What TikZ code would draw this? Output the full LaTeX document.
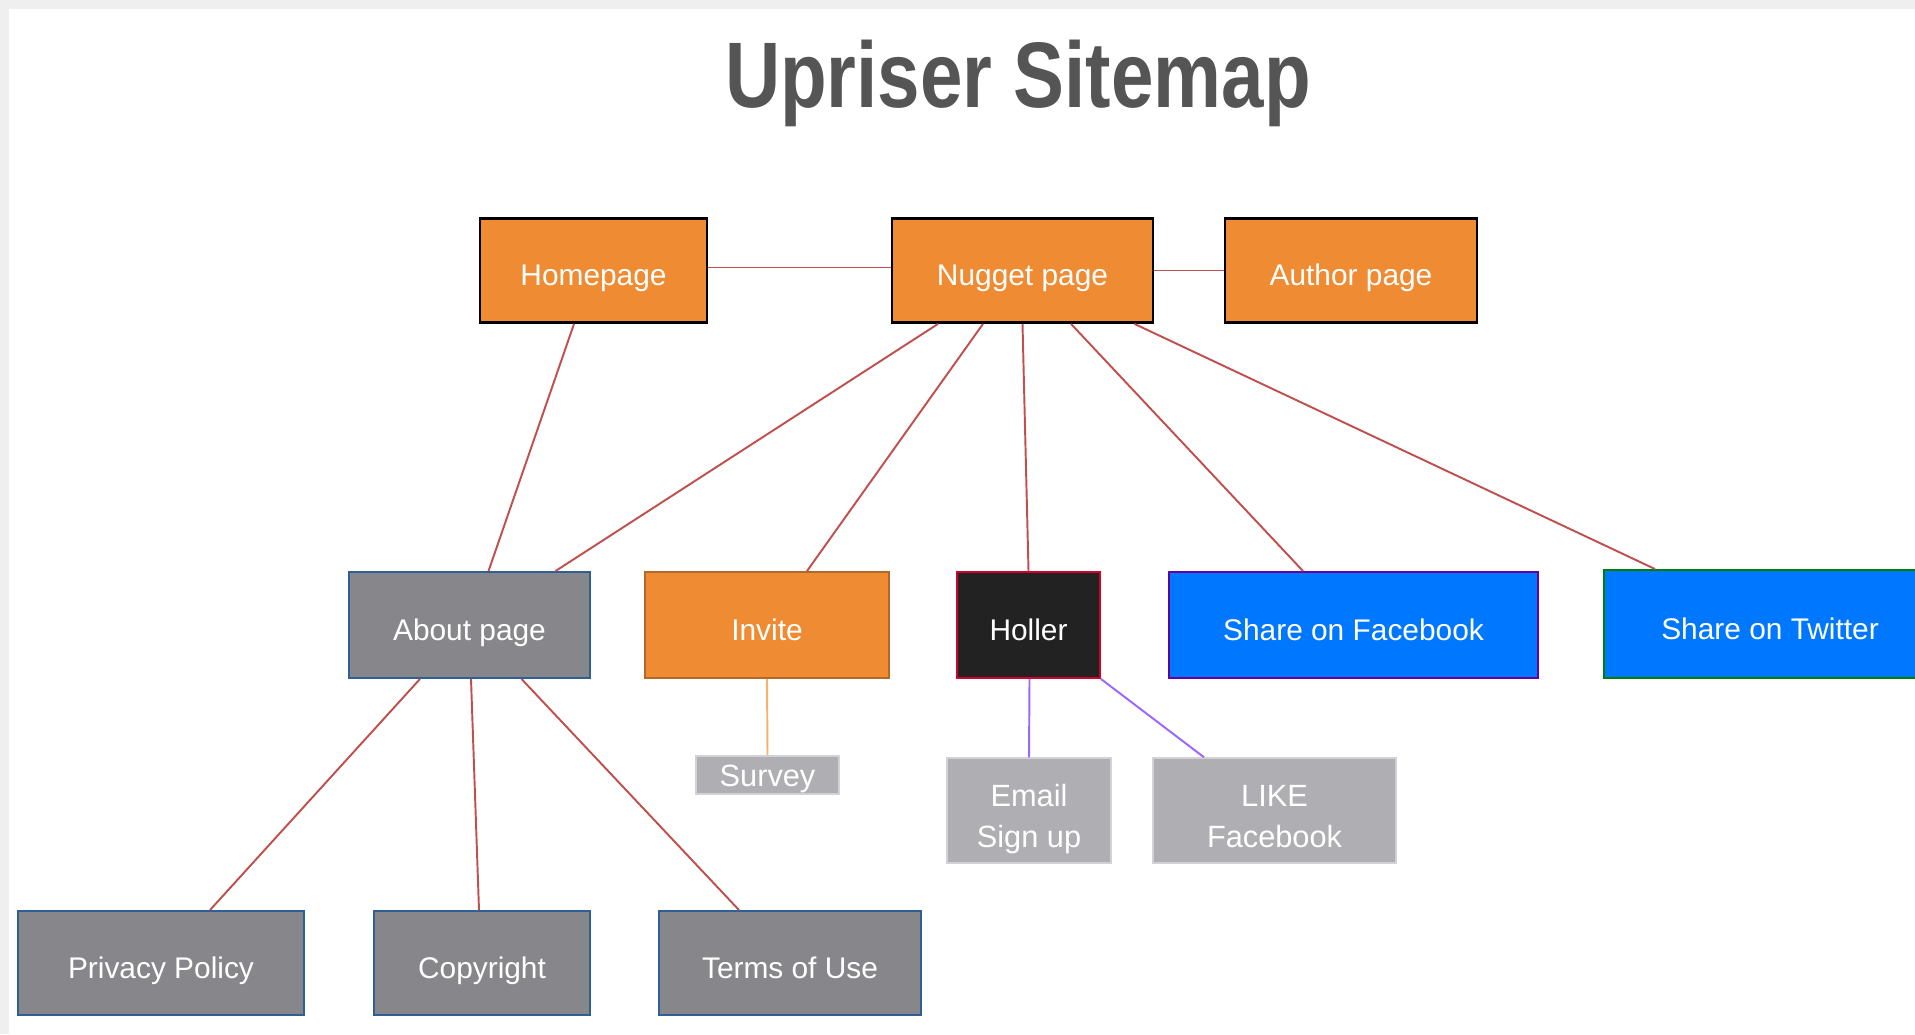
\documentclass[tikz,border=0pt]{standalone}
\usepackage{fontspec}
\setmainfont{Liberation Sans}
\newfontfamily\titlefont{Liberation Sans}[FakeStretch=0.82]
\newcommand{\pxu}{0.02cm}
\definecolor{upOrange}{HTML}{EE8B33}
\definecolor{upGray}{HTML}{87868B}
\definecolor{upGrayEdge}{HTML}{2E6096}
\definecolor{upLight}{HTML}{AFAEB3}
\definecolor{upLightEdge}{HTML}{D2D2D6}
\definecolor{upBlue}{HTML}{0077FF}
\definecolor{upDark}{HTML}{222222}
\definecolor{upRed}{HTML}{C0504D}
\definecolor{upPurple}{HTML}{9966FF}
\definecolor{upPeach}{HTML}{F6B26B}
\definecolor{upTitle}{HTML}{555555}
\definecolor{upFrame}{HTML}{EFEFEF}

\begin{document}
\begin{tikzpicture}[x=0.02cm, y=-0.02cm,
  page/.style={draw, line width=1.1pt, text=white, inner sep=0pt,
    font=\fontsize{17}{20}\selectfont, text height=31*\pxu, text depth=0pt,
    minimum height=104*\pxu},
  toppage/.style={page, fill=upOrange, draw=black, line width=1.6pt},
  greypage/.style={page, fill=upGray, draw=upGrayEdge},
  sharepage/.style={page, fill=upBlue},
  subpage/.style={draw=upLightEdge, fill=upLight, line width=0.8pt, text=white,
    inner sep=0pt, align=center, font=\fontsize{17.5}{22.8}\selectfont, text depth=0pt},
  link/.style={draw=upRed, line width=1.1pt}]
\useasboundingbox (0,0) rectangle (1915,1034);
\clip (0,0) rectangle (1915,1034);
\fill[upFrame] (0,0) rectangle (1915,1034);
\fill[white] (9,9) rectangle (1915,1034);

% Title
\node[anchor=base, text=upTitle, font=\titlefont\bfseries\fontsize{53}{60}\selectfont] (title) at (1018,108) {Upriser Sitemap};

% Top row
\node[toppage, minimum width=227*\pxu, text height=29*\pxu] (home) at (593.5,270.5) {Homepage};
\node[toppage, minimum width=261*\pxu, text height=29*\pxu] (nugget) at (1022.5,270.5) {Nugget page};
\node[toppage, minimum width=252*\pxu, text height=29*\pxu] (author) at (1351,270.5) {Author page};

% Second row
\node[greypage, minimum width=241*\pxu, minimum height=106*\pxu] (about) at (469.5,625) {About page};
\node[page, fill=upOrange, draw=upOrange!75!black, minimum width=244*\pxu, minimum height=106*\pxu] (invite) at (767,625) {Invite};
\node[page, fill=upDark, draw=purple!70!red, minimum width=143*\pxu, minimum height=106*\pxu] (holler) at (1028.5,625) {Holler};
\node[sharepage, draw=violet!80!blue, minimum width=369*\pxu, minimum height=106*\pxu] (facebook) at (1353.5,625) {Share on Facebook};
\node[sharepage, draw=green!50!black, minimum width=332*\pxu, minimum height=108*\pxu] (twitter) at (1770,624) {Share on Twitter};

% Small pages
\node[subpage, minimum width=143*\pxu, minimum height=38*\pxu, text height=22*\pxu] (survey) at (767.5,775) {Survey};
\node[subpage, minimum width=164*\pxu, minimum height=105*\pxu, text height=73*\pxu] (email) at (1029,810.5) {Email\\Sign up};
\node[subpage, minimum width=243*\pxu, minimum height=105*\pxu, text height=73*\pxu] (like) at (1274.5,810.5) {LIKE\\Facebook};

% Bottom row
\node[greypage, minimum width=286*\pxu] (privacy) at (161,963) {Privacy Policy};
\node[greypage, minimum width=216*\pxu] (copyright) at (482,963) {Copyright};
\node[greypage, minimum width=262*\pxu] (terms) at (790,963) {Terms of Use};

% Links
\draw[link] ([yshift=3*\pxu]home.east) -- ([yshift=3*\pxu]nugget.west);
\draw[link] (nugget.east) -- (author.west);
\draw[link] ([xshift=-19.5*\pxu]home.south) -- ([xshift=19*\pxu]about.north);
\draw[link] ([xshift=-84.5*\pxu]nugget.south) -- ([xshift=86*\pxu]about.north);
\draw[link] ([xshift=-39.5*\pxu]nugget.south) -- ([xshift=40*\pxu]invite.north);
\draw[link] (nugget.south) -- (holler.north);
\draw[link] ([xshift=48.5*\pxu]nugget.south) -- ([xshift=-50.5*\pxu]facebook.north);
\draw[link] ([xshift=112*\pxu]nugget.south) -- ([xshift=-115*\pxu]twitter.north);
\draw[link] ([xshift=-49.5*\pxu]about.south) -- ([xshift=49*\pxu]privacy.north);
\draw[link] ([xshift=1.5*\pxu]about.south) -- ([xshift=-3*\pxu]copyright.north);
\draw[link] ([xshift=52*\pxu]about.south) -- ([xshift=-51*\pxu]terms.north);
\draw[upPeach, line width=1.1pt] (invite.south) -- (survey.north);
\draw[upPurple, line width=1.1pt] ([xshift=1*\pxu]holler.south) -- (email.north);
\draw[upPurple, line width=1.1pt] (holler.south east) -- ([xshift=-70.5*\pxu]like.north);
\end{tikzpicture}
\end{document}
